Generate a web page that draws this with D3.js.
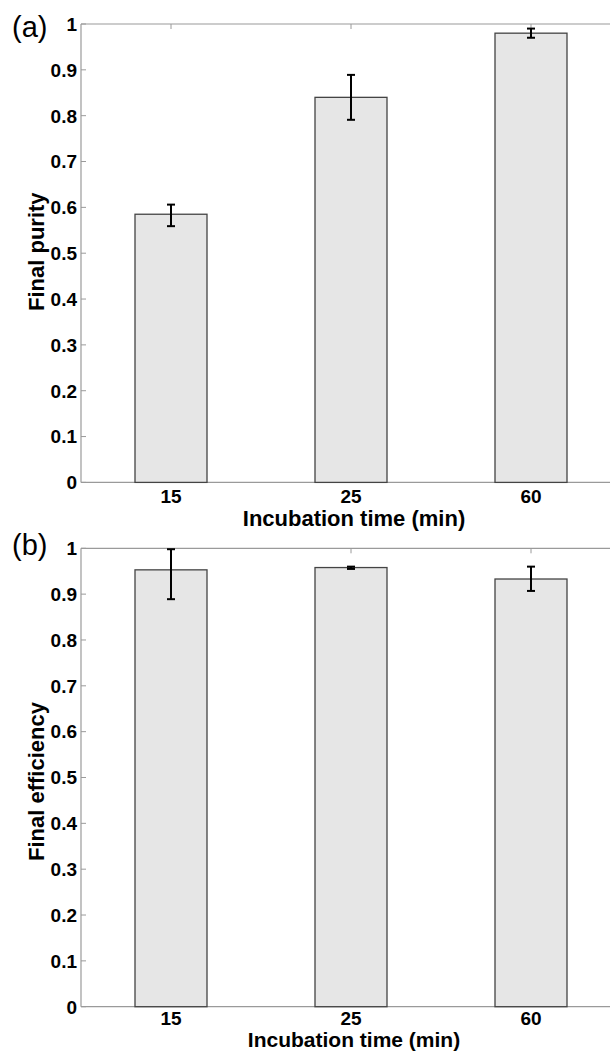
<!DOCTYPE html>
<html>
<head>
<meta charset="utf-8">
<script src="https://cdn.jsdelivr.net/npm/d3@7"></script>
<style>
  body { margin: 0; background: #fff; }
  text { font-family: "Liberation Sans", Arial, sans-serif; }
</style>
</head>
<body>
<div id="chart"></div>
<script>
// data
var times = ["15", "25", "60"];
var purity = [0.585, 0.840, 0.980];
var purityLow = [0.559, 0.791, 0.970];
var purityHigh = [0.606, 0.889, 0.990];
var efficiency = [0.953, 0.958, 0.933];
var efficiencyLow = [0.889, 0.955, 0.907];
var efficiencyHigh = [0.998, 0.960, 0.960];
var yTicks = [0, 0.1, 0.2, 0.3, 0.4, 0.5, 0.6, 0.7, 0.8, 0.9, 1];

var W = 610, H = 1051;
var svg = d3.select("#chart").append("svg")
    .attr("width", W)
    .attr("height", H);

function panel(opt) {
  var left = 81, right = 621, plotH = 458.4;
  var vals = opt.vals, lo = opt.lo, hi = opt.hi;
  var g = svg.append("g").attr("transform", "translate(0," + opt.top + ")");

  var x = d3.scaleBand().domain(times).range([left, right]).paddingInner(0.6).paddingOuter(0.3);
  var y = d3.scaleLinear().domain([0, 1]).range([plotH, 0]);

  // box lines
  g.append("line").attr("x1", left).attr("x2", right).attr("y1", 0).attr("y2", 0)
    .attr("stroke", "#9a9a9a").attr("stroke-width", 1.2);
  g.append("line").attr("x1", left).attr("x2", right).attr("y1", plotH).attr("y2", plotH)
    .attr("stroke", "#9a9a9a").attr("stroke-width", 1.2);
  g.append("line").attr("x1", left).attr("x2", left).attr("y1", 0).attr("y2", plotH)
    .attr("stroke", "#9a9a9a").attr("stroke-width", 1.2);

  // y ticks (inward) + labels
  yTicks.forEach(function(t) {
    g.append("line").attr("x1", left).attr("x2", left + 5).attr("y1", y(t)).attr("y2", y(t))
      .attr("stroke", "#9a9a9a").attr("stroke-width", 1);
    g.append("text").attr("x", left - 4).attr("y", y(t)).attr("dy", "0.36em")
      .attr("text-anchor", "end").attr("font-weight", "bold").attr("font-size", "19px")
      .text(t === 0 ? "0" : t === 1 ? "1" : t.toFixed(1));
  });

  // x ticks (top and bottom, inward) + labels
  times.forEach(function(c) {
    var cx = x(c) + x.bandwidth() / 2;
    g.append("line").attr("x1", cx).attr("x2", cx).attr("y1", 0).attr("y2", 5)
      .attr("stroke", "#9a9a9a").attr("stroke-width", 1);
    g.append("line").attr("x1", cx).attr("x2", cx).attr("y1", plotH).attr("y2", plotH - 5)
      .attr("stroke", "#9a9a9a").attr("stroke-width", 1);
    g.append("text").attr("x", cx).attr("y", plotH + opt.tickDy)
      .attr("text-anchor", "middle").attr("font-weight", "bold").attr("font-size", "19px")
      .text(c);
  });

  // bars
  g.selectAll("rect.bar").data(vals).enter().append("rect")
    .attr("class", "bar")
    .attr("x", function(d, i) { return x(times[i]); })
    .attr("width", x.bandwidth())
    .attr("y", function(d) { return y(d); })
    .attr("height", function(d) { return plotH - y(d); })
    .attr("fill", "#e6e6e6")
    .attr("stroke", "#444")
    .attr("stroke-width", 1.3);

  // error bars
  var eb = g.selectAll("g.err").data(vals).enter().append("g").attr("class", "err");
  eb.append("line")
    .attr("x1", function(d, i) { return x(times[i]) + x.bandwidth() / 2; })
    .attr("x2", function(d, i) { return x(times[i]) + x.bandwidth() / 2; })
    .attr("y1", function(d, i) { return y(lo[i]); })
    .attr("y2", function(d, i) { return y(hi[i]); })
    .attr("stroke", "#000").attr("stroke-width", 2);
  [lo, hi].forEach(function(arr) {
    eb.append("line")
      .attr("x1", function(d, i) { return x(times[i]) + x.bandwidth() / 2 - 4; })
      .attr("x2", function(d, i) { return x(times[i]) + x.bandwidth() / 2 + 4; })
      .attr("y1", function(d, i) { return y(arr[i]); })
      .attr("y2", function(d, i) { return y(arr[i]); })
      .attr("stroke", "#000").attr("stroke-width", 2);
  });

  // axis titles
  g.append("text").attr("x", 354).attr("y", plotH + opt.titleDy)
    .attr("text-anchor", "middle").attr("font-weight", "bold").attr("font-size", opt.titleSize)
    .text("Incubation time (min)");
  g.append("text").attr("transform", "translate(43.5," + (plotH / 2 + opt.yLabelShift) + ") rotate(-90)")
    .attr("text-anchor", "middle").attr("font-weight", "bold").attr("font-size", "22px")
    .text(opt.yLabel);

  // panel tag
  g.append("text").attr("x", 12).attr("y", opt.tagDy)
    .attr("font-family", "'Open Sans', sans-serif").attr("font-size", "29px")
    .text(opt.tag);
}

panel({tag: "(a)", top: 24, yLabel: "Final purity", vals: purity, lo: purityLow, hi: purityHigh,
       tickDy: 21, titleDy: 44, titleSize: "22px", yLabelShift: -1.5, tagDy: 12.7});
panel({tag: "(b)", top: 548.3, yLabel: "Final efficiency", vals: efficiency, lo: efficiencyLow, hi: efficiencyHigh,
       tickDy: 18, titleDy: 40.7, titleSize: "21px", yLabelShift: 4, tagDy: 6.7});
</script>
</body>
</html>
